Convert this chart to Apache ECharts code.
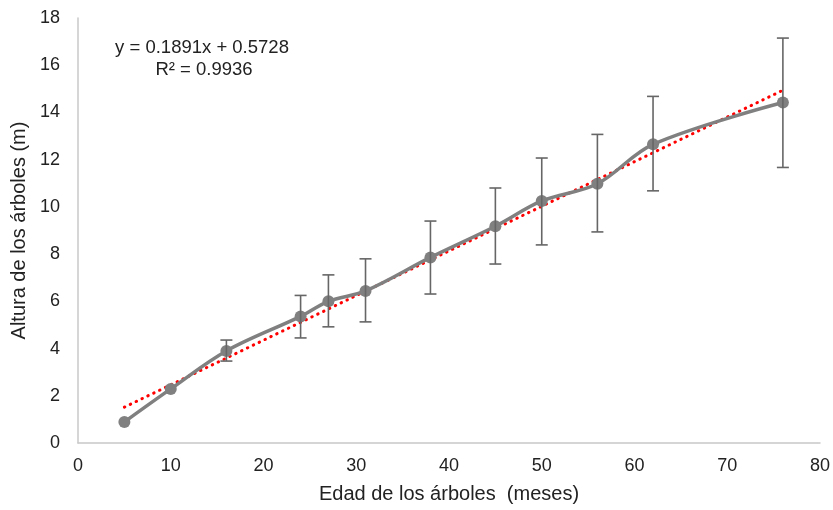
<!DOCTYPE html>
<html>
<head>
<meta charset="utf-8">
<script src="https://cdn.jsdelivr.net/npm/echarts@6/dist/echarts.min.js"></script>
<style>html,body{margin:0;padding:0;background:#fff}#c{width:833px;height:510px}</style>
</head>
<body>
<div id="c"></div>
<script>
var ages = [5, 10, 16, 24, 27, 31, 38, 45, 50, 56, 62, 76];
var heights = [0.89, 2.29, 3.9, 5.36, 6.0, 6.44, 7.86, 9.18, 10.25, 10.98, 12.65, 14.42];
var errUpper = [0.89, 2.29, 4.36, 6.25, 7.12, 7.8, 9.4, 10.8, 12.07, 13.07, 14.68, 17.15];
var errLower = [0.89, 2.29, 3.47, 4.45, 4.92, 5.13, 6.31, 7.58, 8.39, 8.94, 10.68, 11.67];
var trendX = [5, 76];
var trendY = [1.518, 14.94];
var xTicks = [0, 10, 20, 30, 40, 50, 60, 70, 80];
var yTicks = [0, 2, 4, 6, 8, 10, 12, 14, 16, 18];
var eqText = 'y = 0.1891x + 0.5728';
var r2Text = 'R² = 0.9936';

var FONT = '"Liberation Sans", Arial, sans-serif';
var chart = echarts.init(document.getElementById('c'), null, {renderer: 'canvas'});

var mainData = ages.map(function (a, i) { return [a, heights[i]]; });
var errData = ages.map(function (a, i) { return [a, errLower[i], errUpper[i]]; });
var trendData = trendX.map(function (a, i) { return [a, trendY[i]]; });

chart.setOption({
  animation: false,
  grid: {left: 78, right: 13, top: 18, bottom: 67, containLabel: false},
  xAxis: {
    type: 'value', min: 0, max: 80, interval: 10,
    name: 'Edad de los árboles  (meses)', nameLocation: 'middle', nameGap: 41,
    nameTextStyle: {fontFamily: FONT, fontSize: 20, color: '#222'},
    axisLine: {show: true, lineStyle: {color: '#c8c8c8', width: 1.5}},
    axisTick: {show: false},
    splitLine: {show: false},
    axisLabel: {fontFamily: FONT, fontSize: 18, color: '#222', margin: 14,
      formatter: function (v) { return xTicks.indexOf(v) >= 0 ? String(v) : ''; }}
  },
  yAxis: {
    type: 'value', min: 0, max: 18, interval: 2,
    name: 'Altura de los árboles (m)', nameLocation: 'middle', nameGap: 44, nameRotate: 90,
    nameTextStyle: {fontFamily: FONT, fontSize: 20, color: '#222'},
    axisLine: {show: true, lineStyle: {color: '#c8c8c8', width: 1.5}},
    axisTick: {show: false},
    splitLine: {show: false},
    axisLabel: {fontFamily: FONT, fontSize: 18, color: '#222', margin: 18,
      formatter: function (v) { return yTicks.indexOf(v) >= 0 ? String(v) : ''; }}
  },
  graphic: [
    {type: 'text', x: 202, y: 38, style: {text: eqText, font: '18.5px ' + FONT, fill: '#222', textAlign: 'center'}},
    {type: 'text', x: 204, y: 60, style: {text: r2Text, font: '18.5px ' + FONT, fill: '#222', textAlign: 'center'}}
  ],
  series: [
    {
      type: 'line', data: trendData, symbol: 'none', z: 3,
      lineStyle: {color: '#ff0000', width: 3, type: [0.5, 6], cap: 'round'}
    },
    {
      type: 'line', data: mainData, smooth: 0.35, symbol: 'circle', symbolSize: 12, z: 4,
      lineStyle: {color: '#808080', width: 3.5},
      itemStyle: {color: '#808080'}
    },
    {
      type: 'custom', data: errData, z: 5,
      renderItem: function (params, api) {
        var x = api.value(0);
        var lo = api.coord([x, api.value(1)]);
        var hi = api.coord([x, api.value(2)]);
        if (Math.abs(lo[1] - hi[1]) < 1) return null;
        var w = 6;
        var st = {stroke: '#666666', lineWidth: 1.6};
        return {type: 'group', children: [
          {type: 'line', shape: {x1: hi[0], y1: hi[1], x2: lo[0], y2: lo[1]}, style: st},
          {type: 'line', shape: {x1: hi[0] - w, y1: hi[1], x2: hi[0] + w, y2: hi[1]}, style: st},
          {type: 'line', shape: {x1: lo[0] - w, y1: lo[1], x2: lo[0] + w, y2: lo[1]}, style: st}
        ]};
      }
    }
  ]
});
</script>
</body>
</html>
